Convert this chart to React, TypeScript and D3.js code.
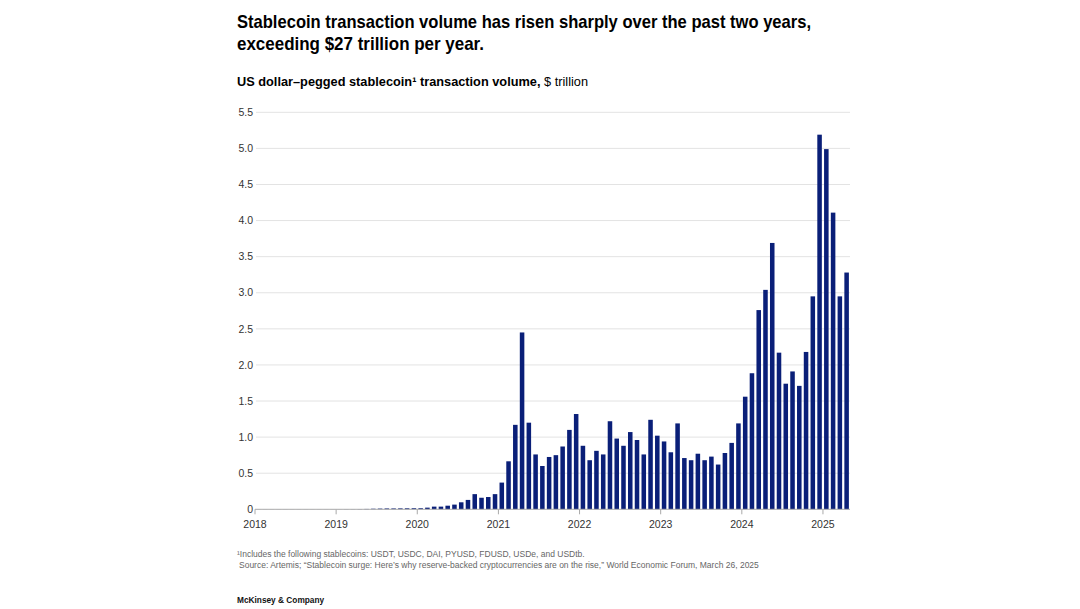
import React from 'react';
import * as d3 from 'd3';

// monthly stablecoin transaction volume, $ trillion
const v2018 = [0.001, 0.001, 0.001, 0.001, 0.001, 0.001, 0.001, 0.001, 0.001, 0.001, 0.001, 0.001];
const v2019 = [0.001, 0.002, 0.002, 0.003, 0.005, 0.008, 0.01, 0.012, 0.012, 0.013, 0.014, 0.015];
const v2020 = [0.015, 0.023, 0.037, 0.037, 0.05, 0.065, 0.097, 0.13, 0.21, 0.16, 0.17, 0.21];
const v2021 = [0.37, 0.665, 1.17, 2.45, 1.2, 0.76, 0.6, 0.725, 0.75, 0.87, 1.1, 1.32];
const v2022 = [0.88, 0.68, 0.81, 0.76, 1.22, 0.98, 0.88, 1.07, 0.96, 0.76, 1.24, 1.02];
const v2023 = [0.94, 0.79, 1.19, 0.71, 0.68, 0.77, 0.68, 0.73, 0.62, 0.78, 0.92, 1.19];
const v2024 = [1.56, 1.885, 2.76, 3.04, 3.69, 2.17, 1.74, 1.91, 1.71, 2.18, 2.95, 5.19];
const v2025 = [4.99, 4.11, 2.95, 3.28];

const years = ['2018', '2019', '2020', '2021', '2022', '2023', '2024', '2025'];
const yTicks = [0, 0.5, 1.0, 1.5, 2.0, 2.5, 3.0, 3.5, 4.0, 4.5, 5.0, 5.5];

const values = [...v2018, ...v2019, ...v2020, ...v2021, ...v2022, ...v2023, ...v2024, ...v2025];
const months = values.map((_, i) => `${years[Math.floor(i / 12)]}-${(i % 12) + 1}`);

const W = 1080;
const H = 609;
const font = '"Liberation Sans", Arial, Helvetica, sans-serif';
const barColor = '#0a1f78';

const App: React.FC = () => {
  const x = d3.scaleBand<string>()
    .domain(months)
    .range([255, 850])
    .paddingInner(0.33)
    .paddingOuter(0.165);
  const y = d3.scaleLinear().domain([0, 5.5]).range([509.3, 112.3]);

  const step = x.step();
  const boundary = (m: string) => (x(m) as number) - (step * 0.33) / 2;

  return (
    <div style={{ position: 'fixed', left: 0, top: 0, width: W, height: H, background: '#fff' }}>
      <svg width={W} height={H} style={{ display: 'block' }} fontFamily={font}>
        {/* Title */}
        <text x={237} y={28} fontSize={18.5} fontWeight={700} fill="#000" textLength={574} lengthAdjust="spacingAndGlyphs">
          Stablecoin transaction volume has risen sharply over the past two years,
        </text>
        <text x={237} y={50} fontSize={18.5} fontWeight={700} fill="#000" textLength={247} lengthAdjust="spacingAndGlyphs">
          exceeding $27 trillion per year.
        </text>

        {/* Subtitle */}
        <text x={237} y={86} fontSize={12.5} fill="#000" textLength={351} lengthAdjust="spacingAndGlyphs">
          <tspan fontWeight={700}>US dollar–pegged stablecoin¹ transaction volume,</tspan>
          <tspan> $ trillion</tspan>
        </text>

        {/* Gridlines + y labels */}
        {yTicks.map(t => (
          <g key={t}>
            {t > 0 && (
              <line x1={256} x2={850} y1={y(t)} y2={y(t)} stroke="#e3e3e3" strokeWidth={1} />
            )}
            <text x={253} y={y(t)} dy="0.35em" textAnchor="end" fontSize={10.5} fill="#333">
              {t === 0 ? '0' : t.toFixed(1)}
            </text>
          </g>
        ))}

        {/* Bars */}
        {values.map((v, i) => (
          <rect
            key={months[i]}
            x={x(months[i])}
            y={y(v)}
            width={x.bandwidth()}
            height={y(0) - y(v)}
            fill={barColor}
          />
        ))}

        {/* x axis */}
        <line x1={255} x2={850} y1={y(0)} y2={y(0)} stroke="#aaa" strokeWidth={1} />
        {years.map(yr => {
          const bx = boundary(`${yr}-1`);
          return (
            <g key={yr}>
              <line x1={bx} x2={bx} y1={y(0)} y2={y(0) + 5} stroke="#aaa" strokeWidth={1} />
              <text x={bx} y={528} textAnchor="middle" fontSize={10.5} fill="#333">{yr}</text>
            </g>
          );
        })}

        {/* Footnotes */}
        <text x={237} y={557} fontSize={8.5} fill="#666">
          ¹Includes the following stablecoins: USDT, USDC, DAI, PYUSD, FDUSD, USDe, and USDtb.
        </text>
        <text x={239} y={568} fontSize={8.5} fill="#666">
          Source: Artemis; “Stablecoin surge: Here’s why reserve-backed cryptocurrencies are on the rise,” World Economic Forum, March 26, 2025
        </text>
        <text x={237} y={603} fontSize={8.3} fontWeight={700} fill="#111">McKinsey &amp; Company</text>
      </svg>
    </div>
  );
};

export default App;
